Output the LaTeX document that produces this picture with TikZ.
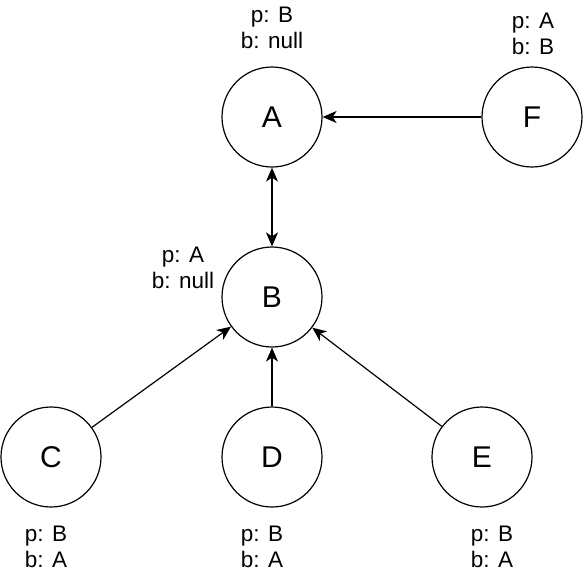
\documentclass[tikz,border=0pt]{standalone}
\usepackage{fontspec}
\setmainfont{Liberation Sans}
\usetikzlibrary{arrows.meta}
\tikzset{vnode/.style = {shape = circle,
                         draw = black,
                         line width = 1.2pt,
                         minimum size = 100pt,
                         inner sep = 0pt,
                         font = \fontsize{30}{34}\selectfont},
         info/.style = {align = center,
                        inner sep = 0pt,
                        font = \fontsize{22.5}{26.5}\selectfont},
         link/.style = {line width = 1.2pt,
                        >={Stealth[length=14pt,width=12pt,inset=4pt]}}}
\begin{document}
\begin{tikzpicture}[x=1pt,y=-1pt]
		\useasboundingbox (0,0) rectangle (584,574);
		\node[vnode] (A) at (272,117) {A};
		\node[vnode] (F) at (532,117) {F};
		\node[vnode] (B) at (272,297) {B};
		\node[vnode] (C) at (51,457) {C};
		\node[vnode] (D) at (272,457) {D};
		\node[vnode] (E) at (482,457) {E};
		\node[info] (iA) at (272,28) {p: B\\b: null};
		\node[info] (iF) at (533,34) {p: A\\b: B};
		\node[info] (iB) at (183,268) {p: A\\b: null};
		\node[info] (iC) at (46,547) {p: B\\b: A};
		\node[info] (iD) at (262,547) {p: B\\b: A};
		\node[info] (iE) at (492,547) {p: B\\b: A};
		\draw[link,->] (F) -- (A);
		\draw[link,<->] (A) -- (B);
		\draw[link,->] (C) -- (B);
		\draw[link,->] (D) -- (B);
		\draw[link,->] (E) -- (B);
	\end{tikzpicture}
\end{document}
